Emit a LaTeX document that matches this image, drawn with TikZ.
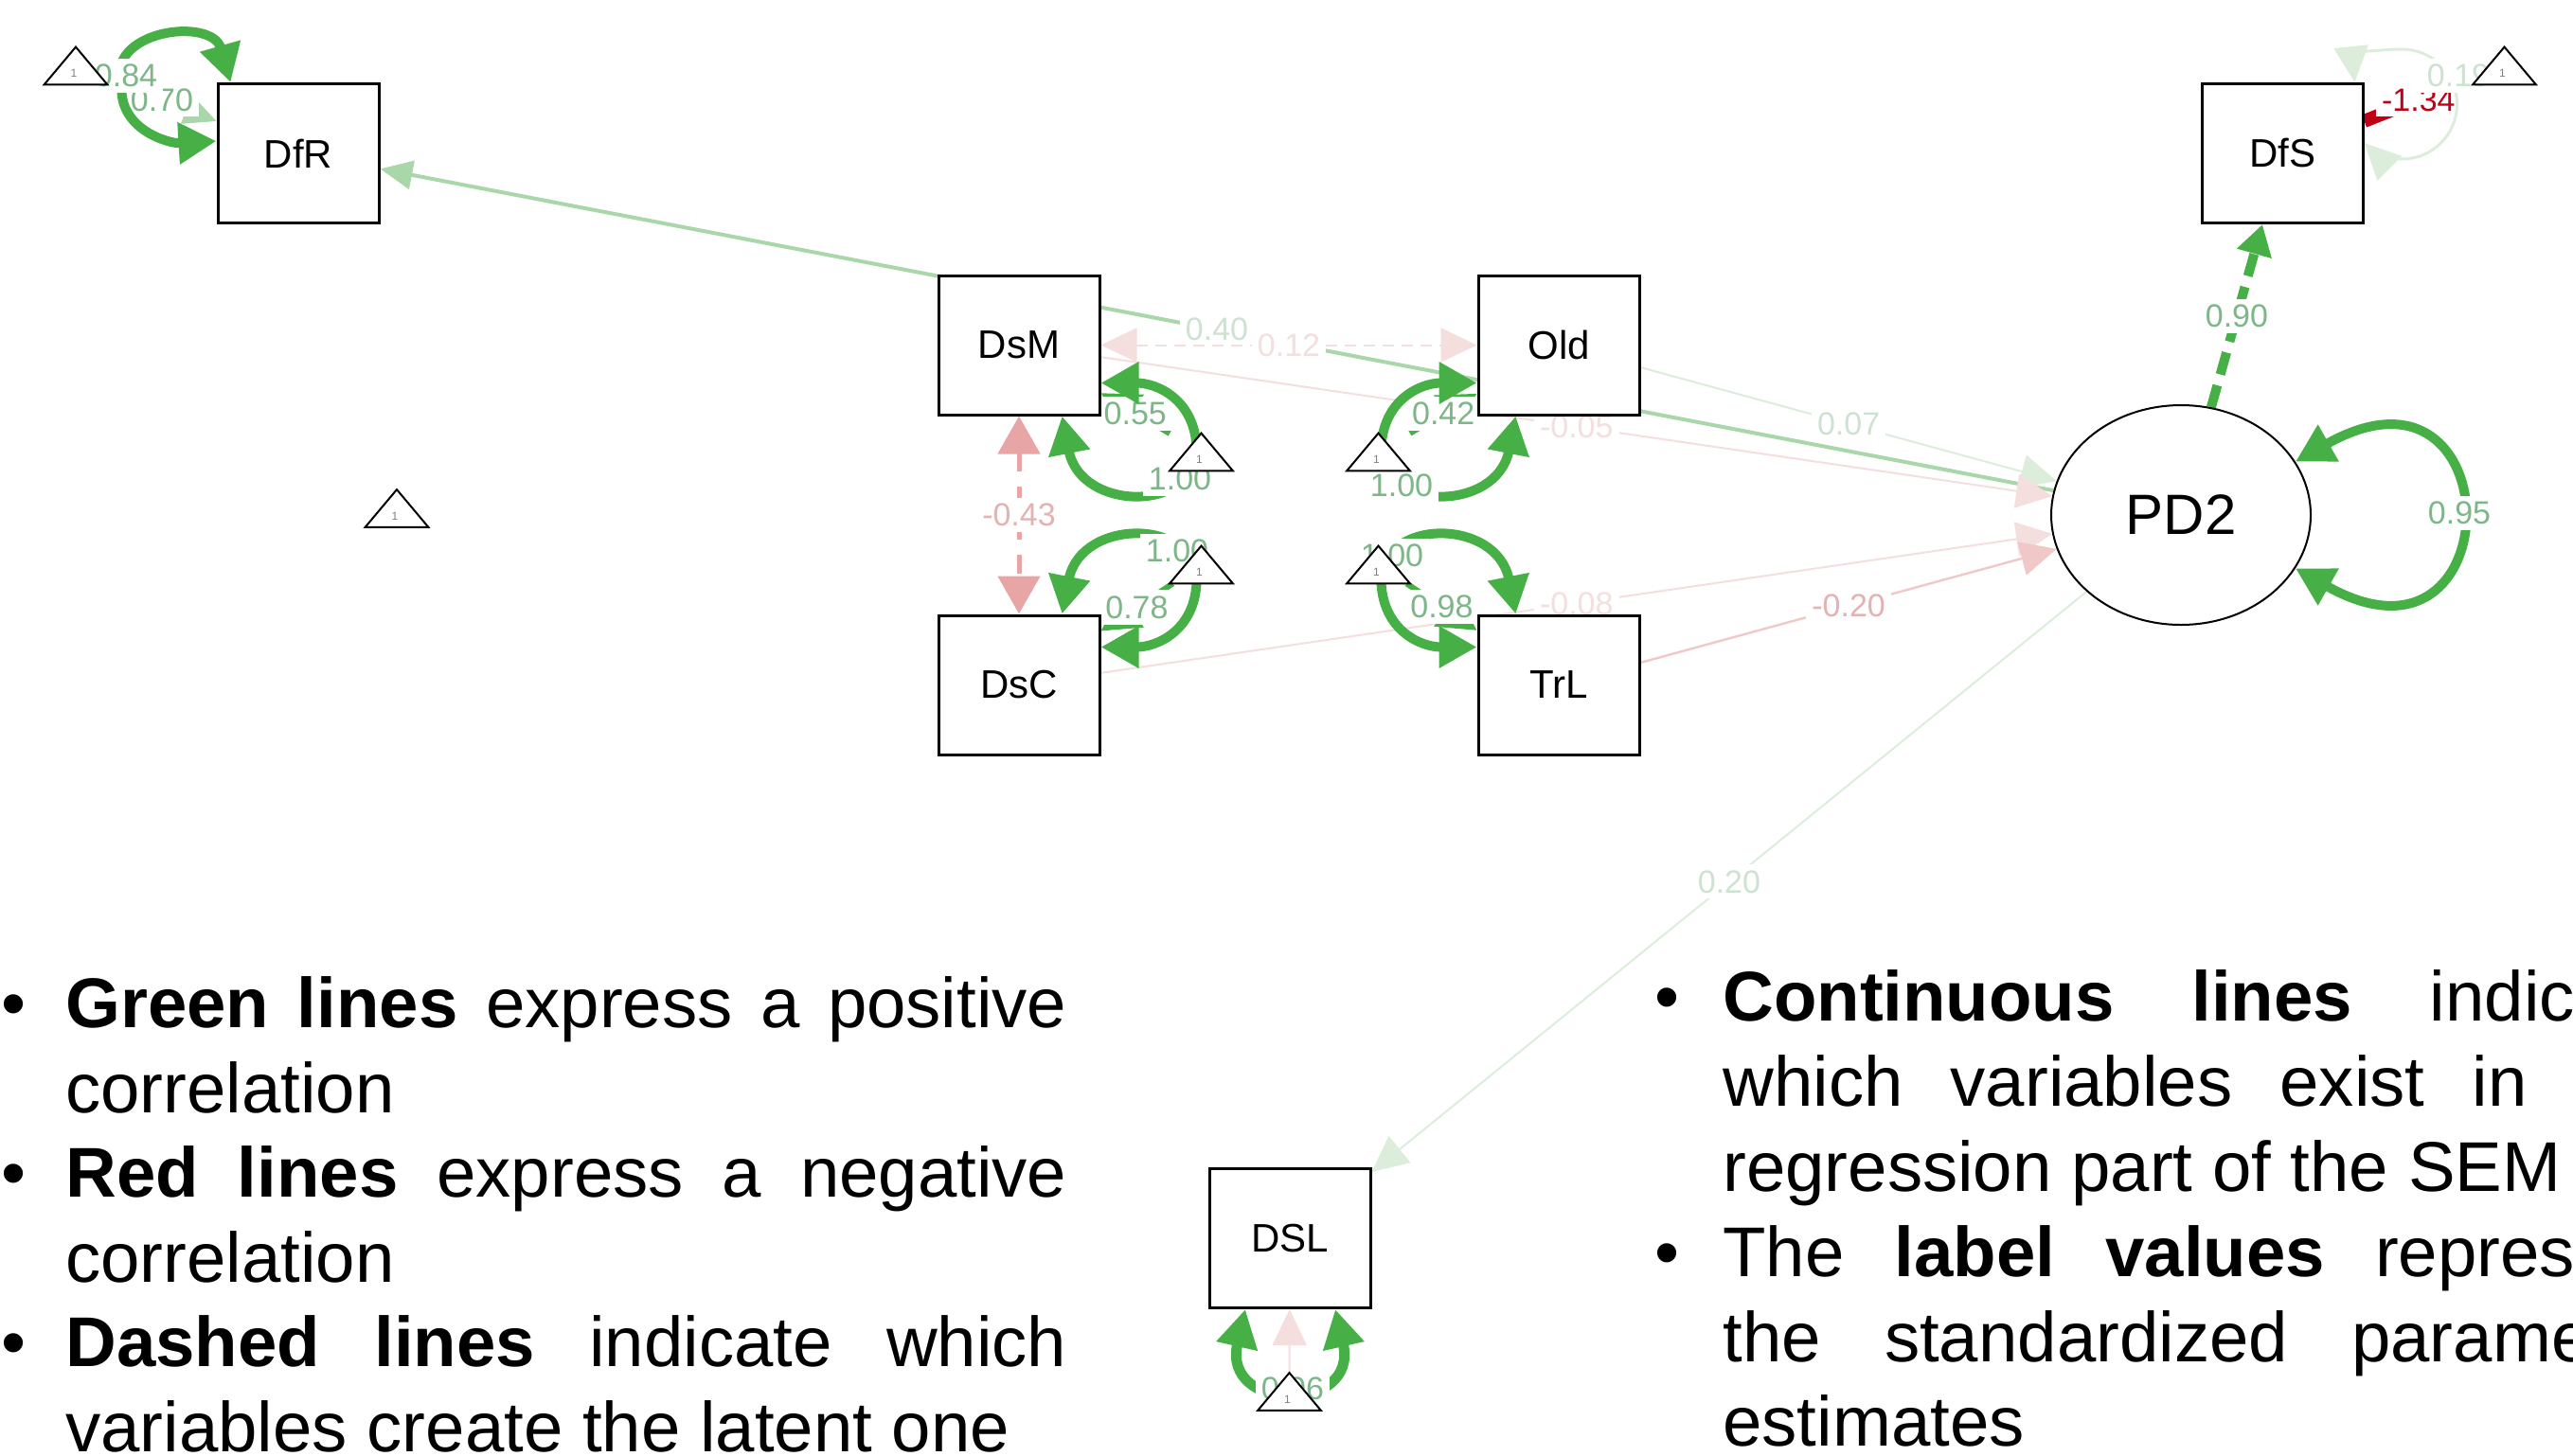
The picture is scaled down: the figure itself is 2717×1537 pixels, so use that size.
\documentclass[tikz,border=0pt]{standalone}
\usepackage{fontspec}
\setmainfont{Liberation Sans}
\usetikzlibrary{arrows.meta,shapes.geometric,calc}
\pgfdeclarelayer{edges}
\pgfsetlayers{edges,main}

\definecolor{grn}{RGB}{70,176,70}
\definecolor{lgrn}{RGB}{170,215,170}
\definecolor{fgrn}{RGB}{220,237,220}
\definecolor{lblg}{RGB}{125,182,135}
\definecolor{flbl}{RGB}{205,226,208}
\definecolor{pnk}{RGB}{232,165,165}
\definecolor{mpnk}{RGB}{240,200,200}
\definecolor{fpnk}{RGB}{244,222,222}
\definecolor{lblp}{RGB}{228,178,178}
\definecolor{dred}{RGB}{192,0,20}

\tikzset{
  tipL/.tip={Triangle[length=20pt,width=21pt]},
  tipM/.tip={Triangle[length=17pt,width=16pt]},
  tipF/.tip={Triangle[length=19pt,width=18pt]},
  var/.style={draw, line width=1.5pt, fill=white, minimum width=85pt,
    minimum height=73.5pt, inner sep=0pt, font=\fontsize{21}{25}\selectfont},
  lat/.style={ellipse, draw, line width=1pt, fill=white, minimum width=137pt,
    minimum height=116pt, inner sep=0pt, font=\fontsize{30}{36}\selectfont},
  icpt/.style={minimum width=33pt, minimum height=19.5pt, inner sep=0pt},
  lbl/.style={font=\fontsize{17}{17}\selectfont, fill=white, inner sep=3pt},
  bigloop/.style={line width=5pt, grn, {tipL}-{tipL}},
  legend/.style={anchor=base west, inner sep=0pt, font=\fontsize{37.2}{45}\selectfont},
}

\begin{document}
\begin{tikzpicture}[x=0.5pt,y=-0.5pt]
\useasboundingbox (0,0) rectangle (2717,1537);

% observed variables and the latent factor
\node[var] (DfR) at (315,162) {DfR};
\node[var] (DfS) at (2410,162) {DfS};
\node[var] (DsM) at (1076,364.5) {DsM};
\node[var] (Old) at (1646,364.5) {Old};
\node[var] (DsC) at (1076,723.5) {DsC};
\node[var] (TrL) at (1646,723.5) {TrL};
\node[var] (DSL) at (1362,1308) {DSL};
\node[lat] (PD2) at (2303,544) {PD2};

% intercept (constant) nodes
\node[icpt] (tDfR) at (80,69.5) {};
\node[icpt] (tDfS) at (2644.5,69.5) {};
\node[icpt] (tPD2) at (419,537) {};
\node[icpt] (t1) at (1268.5,477.5) {};
\node[icpt] (t2) at (1455.5,477.5) {};
\node[icpt] (t3) at (1268.5,596.5) {};
\node[icpt] (t4) at (1455.5,596.5) {};
\node[icpt] (tDSL) at (1361.5,1470) {};

\begin{pgfonlayer}{edges}
% loadings and regressions
\draw[line width=2pt, lgrn, -{Triangle[length=17pt,width=15pt]}]
  (PD2) -- node[lbl, text=flbl] {0.40} (DfR);
\draw[line width=5pt, grn, dash pattern=on 12pt off 6pt, -{Triangle[length=16pt,width=18pt]}]
  (PD2) -- node[lbl, text=lblg] {0.90} (DfS);
\draw[line width=1pt, fgrn, -{tipF}] (Old) -- node[lbl, text=flbl] {0.07} (PD2);
\draw[line width=1pt, fpnk, -{tipF}] (DsM) -- node[lbl, text=fpnk] {-0.05} (PD2);
\draw[line width=1pt, fpnk, -{tipF}] (DsC) -- node[lbl, text=fpnk] {-0.08} (PD2);
\draw[line width=1.2pt, mpnk, -{tipF}] (TrL) -- node[lbl, text=lblp] {-0.20} (PD2);
\draw[line width=1pt, fgrn, -{tipF}] (PD2) -- node[lbl, text=flbl] {0.20} (DSL);

% covariances
\draw[line width=1pt, fpnk, dash pattern=on 6pt off 4pt, {tipF}-{tipF}]
  (DsM) -- node[lbl, text=fpnk] {0.12} (Old);
\draw[line width=2.5pt, pnk, dash pattern=on 10pt off 8pt,
  {Triangle[length=20pt,width=22pt]}-{Triangle[length=20pt,width=22pt]}]
  (DsM) -- node[lbl, text=lblp] {-0.43} (DsC);

% intercepts
\draw[line width=3pt, grn, -{tipL}] (t1) -- node[lbl, text=lblg] {0.55} (DsM);
\draw[line width=3pt, grn, -{tipL}] (t2) -- node[lbl, text=lblg] {0.42} (Old);
\draw[line width=3pt, grn, -{tipL}] (t3) -- node[lbl, text=lblg] {0.78} (DsC);
\draw[line width=3pt, grn, -{tipL}] (t4) -- node[lbl, text=lblg] {0.98} (TrL);
\draw[line width=1.5pt, lgrn, -{tipM}] (tDfR) -- node[lbl, text=lblg] {0.70} (DfR);
\draw[line width=1.5pt, dred, -{Rectangle[length=23pt,width=7pt]}]
  (tDfS) -- node[lbl, text=dred] {-1.34} (DfS);
\draw[line width=1pt, fpnk, -{tipF}] (tDSL) -- (DSL);

% variances
\draw[bigloop] ($(DfR.north west)+(15,0)$)
  .. controls ($(DfR.north west)+(-5,-70)$) and ($(DfR.north west)+(-120,-55)$)
  .. ($(DfR.north west)+(-100,5)$)
  .. controls ($(DfR.north west)+(-102,50)$) and ($(DfR.north west)+(-50,65)$)
  .. ($(DfR.north west)+(0,62)$);
\node[lbl, text=lblg] at (133,80) {0.84};

\draw[line width=1.5pt, fgrn, {tipF}-{tipF}] ($(DfS.north east)+(-10,0)$)
  .. controls ($(DfS.north east)+(-13,-29)$) and ($(DfS.north east)+(15,-35)$)
  .. ($(DfS.north east)+(40,-35)$)
  .. controls ($(DfS.north east)+(72,-35)$) and ($(DfS.north east)+(98,-9)$)
  .. ($(DfS.north east)+(98,23)$)
  .. controls ($(DfS.north east)+(98,55)$) and ($(DfS.north east)+(72,81)$)
  .. ($(DfS.north east)+(40,81)$)
  .. controls ($(DfS.north east)+(20,81)$) and ($(DfS.north east)+(8,72)$)
  .. ($(DfS.north east)+(0,64)$);
\node[lbl, text=flbl] at (2596,80) {0.19};

\draw[bigloop] (PD2.25) .. controls +(230,-130) and +(230,130) .. (PD2.-25);
\node[lbl, text=lblg] at (2597,542) {0.95};

\draw[bigloop, line width=5.5pt] ($(DSL.south)+(-47,0)$)
  .. controls +(-25,110) and +(25,110) .. ($(DSL.south)+(48,0)$);
\node[lbl, text=lblg] at (1365,1467) {0.96};

\foreach \n/\a/\sx/\sy in {DsM/south east/1/1, Old/south west/-1/1,
                           DsC/north east/1/-1, TrL/north west/-1/-1}{
  \draw[bigloop] ($(\n.\a)+({-41*\sx},0)$)
    .. controls ($(\n.\a)+({-21*\sx},{102*\sy})$) and ($(\n.\a)+({104*\sx},{102*\sy})$)
    .. ($(\n.\a)+({101*\sx},{32*\sy})$)
    .. controls ($(\n.\a)+({98*\sx},{-18*\sy})$) and ($(\n.\a)+({59*\sx},{-35*\sy})$)
    .. ($(\n.\a)+(0,{-35*\sy})$);
}
\node[lbl, text=lblg] at (1246,506) {1.00};
\node[lbl, text=lblg] at (1480,513) {1.00};
\node[lbl, text=lblg] at (1243,582) {1.00};
\node[lbl, text=lblg] at (1470,587) {1.00};
\end{pgfonlayer}

% constant triangles
\foreach \t in {tDfR,tDfS,tPD2,t1,t2,t3,t4,tDSL}{
  \filldraw[fill=white, draw=black, line width=1pt, line join=miter]
    (\t.south west) -- (\t.south east) -- (\t.north) -- cycle;
  \node[font=\fontsize{6}{6}\selectfont, text=gray, inner sep=0pt] at ($(\t)+(-2,8)$) {1};
}

% legend, left column
\node[legend] at (1,1085) {\textbullet};
\node[legend] at (69,1085) {\makebox[528.5pt][s]{\textbf{Green lines} express a positive}};
\node[legend] at (69,1175) {correlation};
\node[legend] at (1,1264) {\textbullet};
\node[legend] at (69,1264) {\makebox[528.5pt][s]{\textbf{Red lines} express a negative}};
\node[legend] at (69,1354) {correlation};
\node[legend] at (1,1443) {\textbullet};
\node[legend] at (69,1443) {\makebox[528.5pt][s]{\textbf{Dashed lines} indicate which}};
\node[legend] at (69,1533) {variables create the latent one};

% legend, right column (runs past the right edge)
\begin{scope}
\clip (0,0) rectangle (2717,1537);
\node[legend] at (1747,1078) {\textbullet};
\node[legend] at (1819,1078) {\makebox[501.5pt][s]{\textbf{Continuous lines} indicate}};
\node[legend] at (1819,1168) {\makebox[501.5pt][s]{which variables exist in the}};
\node[legend] at (1819,1258) {regression part of the SEM};
\node[legend] at (1747,1348) {\textbullet};
\node[legend] at (1819,1348) {\makebox[501.5pt][s]{The \textbf{label values} represent}};
\node[legend] at (1819,1438) {\makebox[501.5pt][s]{the standardized parameter}};
\node[legend] at (1819,1527) {estimates};
\end{scope}
\end{tikzpicture}
\end{document}
